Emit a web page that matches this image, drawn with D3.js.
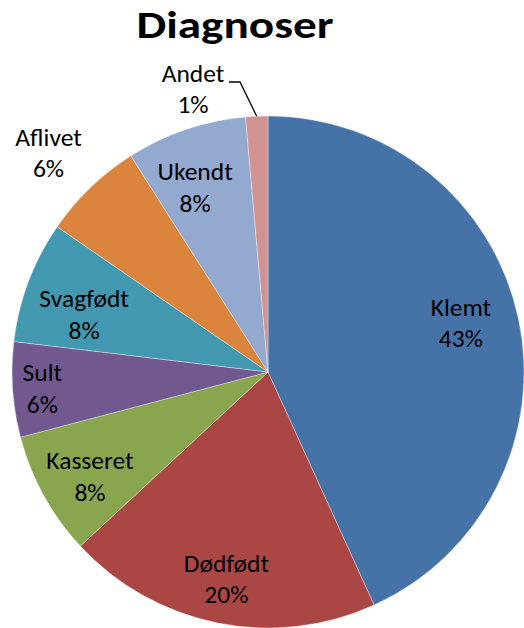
<!DOCTYPE html>
<html>
<head>
<meta charset="utf-8">
<script src="https://cdn.jsdelivr.net/npm/d3@7"></script>
<style>
  body { margin: 0; background: #fff; }
  text { font-family: Carlito, Lato, "Open Sans", sans-serif; fill: #000; }
</style>
</head>
<body>
<svg id="chart" width="524" height="628"></svg>
<script>
var categories = ["Klemt", "Dødfødt", "Kasseret", "Sult", "Svagfødt", "Aflivet", "Ukendt", "Andet"];
var values = [43.2, 19.9, 7.8, 6.0, 7.7, 6.4, 7.6, 1.4];
var colors = ["#4572A7", "#AA4643", "#89A54E", "#71588F", "#4198AF", "#DB843D", "#93A9CF", "#D19392"];

// label placement (Excel best fit): fraction of radius, and a small turn in degrees
var labelRadius = [0.777, 0.827, 0.807, 0.884, 0.752, 1.21, 0.773, 1.138];
var labelTurn = [-1.9, 0, -1.7, -0.4, -3.5, -1.2, -2.9, -3];

var width = 524, height = 628;
var cx = 268, cy = 372, radius = 256;

var svg = d3.select("#chart");

svg.append("text")
  .attr("x", 235)
  .attr("y", 38)
  .attr("text-anchor", "middle")
  .attr("textLength", 197)
  .attr("lengthAdjust", "spacingAndGlyphs")
  .style("font-weight", "bold")
  .style("font-size", "38px")
  .text("Diagnoser");

var data = categories.map(function(c, i){
  return {name: c, value: values[i], color: colors[i], lr: labelRadius[i], turn: labelTurn[i]};
});
var total = d3.sum(values);

var pie = d3.pie().sort(null).value(function(d){ return d.value; });
var arc = d3.arc().innerRadius(0).outerRadius(radius);

var g = svg.append("g").attr("transform", "translate(" + cx + "," + cy + ")");

var arcs = pie(data);

g.selectAll("path.slice")
  .data(arcs).enter()
  .append("path")
    .attr("class", "slice")
    .attr("d", arc)
    .attr("fill", function(d){ return d.data.color; })
    .attr("stroke", "rgba(255,255,255,0.45)")
    .attr("stroke-width", 0.8);

function polar(a, r){ return [Math.sin(a) * r, -Math.cos(a) * r]; }

var fontSize = 25.5, lineGap = 31.5;

arcs.forEach(function(d){
  var mid = (d.startAngle + d.endAngle) / 2;
  var a = mid + d.data.turn * Math.PI / 180;
  var p = polar(a, radius * d.data.lr);
  var pct = Math.round(d.data.value / total * 100) + "%";
  var lx = p[0], ly = p[1];

  if(d.data.name == "Andet"){
    // leader line from slice edge to label
    var edge = polar(mid, radius);
    var lineEnd = [p[0] - 11, p[1]];
    g.append("polyline")
      .attr("points", [edge, p, lineEnd].map(function(q){ return q.join(","); }).join(" "))
      .attr("fill", "none")
      .attr("stroke", "#000")
      .attr("stroke-width", 1.3);
    lx = lineEnd[0] - 36;
    ly = lineEnd[1] + 7.5;
  }

  var t = g.append("text")
    .attr("text-anchor", "middle")
    .style("font-size", fontSize + "px");
  t.append("tspan")
    .attr("x", lx)
    .attr("y", ly - lineGap / 2 + 8)
    .text(d.data.name);
  t.append("tspan")
    .attr("x", lx)
    .attr("y", ly + lineGap / 2 + 8)
    .text(pct);
});
</script>
</body>
</html>
